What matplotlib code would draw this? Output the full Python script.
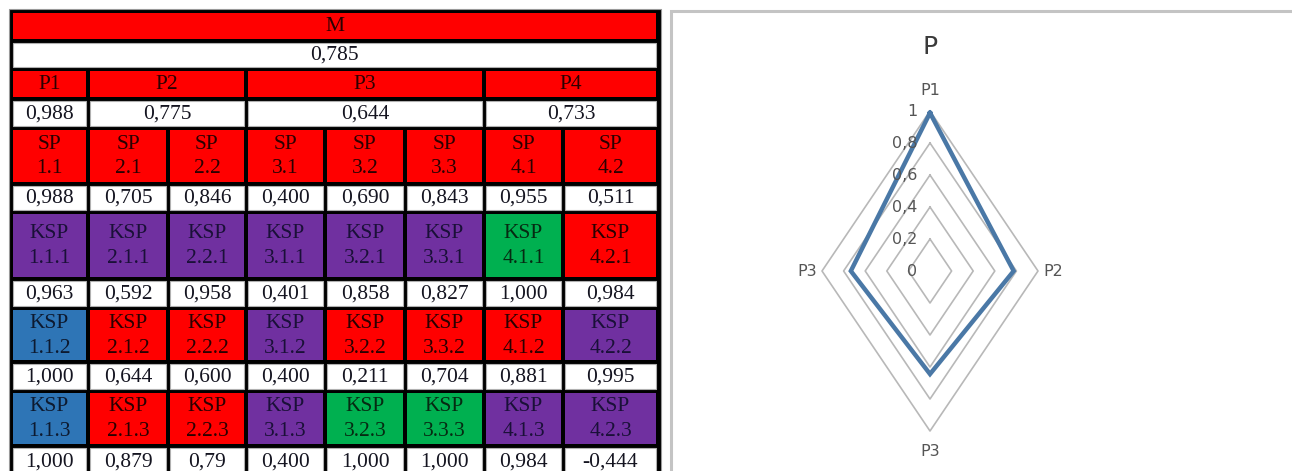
import matplotlib.pyplot as plt
import numpy as np
from matplotlib.patches import Rectangle

# ---- data -------------------------------------------------------------
m_label = 'M'
m_value = '0,785'

p_labels = ['P1', 'P2', 'P3', 'P4']
p_values = ['0,988', '0,775', '0,644', '0,733']
p_spans = [1, 2, 3, 2]

sp_labels = ['SP\n1.1', 'SP\n2.1', 'SP\n2.2', 'SP\n3.1',
             'SP\n3.2', 'SP\n3.3', 'SP\n4.1', 'SP\n4.2']
sp_values = ['0,988', '0,705', '0,846', '0,400',
             '0,690', '0,843', '0,955', '0,511']

ksp1_labels = ['1.1.1', '2.1.1', '2.2.1', '3.1.1', '3.2.1', '3.3.1', '4.1.1', '4.2.1']
ksp1_colors = ['purple', 'purple', 'purple', 'purple', 'purple', 'purple', 'green', 'red']
ksp1_values = ['0,963', '0,592', '0,958', '0,401', '0,858', '0,827', '1,000', '0,984']

ksp2_labels = ['1.1.2', '2.1.2', '2.2.2', '3.1.2', '3.2.2', '3.3.2', '4.1.2', '4.2.2']
ksp2_colors = ['blue', 'red', 'red', 'purple', 'red', 'red', 'red', 'purple']
ksp2_values = ['1,000', '0,644', '0,600', '0,400', '0,211', '0,704', '0,881', '0,995']

ksp3_labels = ['1.1.3', '2.1.3', '2.2.3', '3.1.3', '3.2.3', '3.3.3', '4.1.3', '4.2.3']
ksp3_colors = ['blue', 'red', 'red', 'purple', 'green', 'green', 'purple', 'purple']
ksp3_values = ['1,000', '0,879', '0,79', '0,400', '1,000', '1,000', '0,984', '-0,444']

radar_title = 'P'
radar_labels = ['P1', 'P2', 'P3', 'P3']
radar_values = [0.988, 0.775, 0.644, 0.733]
radar_ticks = [0, 0.2, 0.4, 0.6, 0.8, 1.0]
radar_tick_labels = ['0', '0,2', '0,4', '0,6', '0,8', '1']

# ---- styles -------------------------------------------------------------
fills = {'red': '#ff0000', 'purple': '#7030a0', 'blue': '#2e75b6',
         'green': '#00b050', 'white': '#ffffff'}
inks = {'red': '#2a0000', 'purple': '#1a1038', 'blue': '#0d1a30',
        'green': '#062a12', 'white': '#141420'}

W, H = 1292, 471
col_x = [11, 88, 168, 246, 325, 405, 484, 563, 658]
row_y = [11, 40.5, 68.5, 99, 127.5, 183.5, 211.5, 279, 307.5, 362, 391,
         445.5, 476]
gap = 2.0
serif = 'Liberation Serif'
fsize = 15.5


def cell(ax, c0, c1, r, text, kind):
    x0 = col_x[c0] + gap
    x1 = col_x[c1] - gap
    y0 = row_y[r] + gap
    y1 = row_y[r + 1] - gap
    ec = '#b0b0b0' if kind == 'white' else 'none'
    ax.add_patch(Rectangle((x0, y0), x1 - x0, y1 - y0, facecolor=fills[kind],
                           edgecolor=ec, linewidth=0.8))
    ax.text((x0 + x1) / 2, (y0 + y1) / 2 + 1, text, ha='center', va='center',
            family=serif, fontsize=fsize, color=inks[kind], linespacing=1.4)


def main():
    fig = plt.figure(figsize=(W / 100, H / 100), dpi=100)
    ax = fig.add_axes([0, 0, 1, 1])
    ax.set_xlim(0, W)
    ax.set_ylim(H, 0)
    ax.axis('off')

    # table background (black grid)
    ax.add_patch(Rectangle((8.5, 8.5), 652, 470, facecolor='black',
                           edgecolor='#9a9a9a', linewidth=0.8))
    n = len(col_x) - 1
    cell(ax, 0, n, 0, m_label, 'red')
    cell(ax, 0, n, 1, m_value, 'white')
    c = 0
    for lab, val, span in zip(p_labels, p_values, p_spans):
        cell(ax, c, c + span, 2, lab, 'red')
        cell(ax, c, c + span, 3, val, 'white')
        c += span
    for i in range(n):
        cell(ax, i, i + 1, 4, sp_labels[i], 'red')
        cell(ax, i, i + 1, 5, sp_values[i], 'white')
    r = 6
    for labs, cols, vals in [(ksp1_labels, ksp1_colors, ksp1_values),
                             (ksp2_labels, ksp2_colors, ksp2_values),
                             (ksp3_labels, ksp3_colors, ksp3_values)]:
        for i in range(n):
            cell(ax, i, i + 1, r, 'KSP\n' + labs[i], cols[i])
            cell(ax, i, i + 1, r + 1, vals[i], 'white')
        r += 2

    # chart frame
    ax.add_patch(Rectangle((670.5, 10.5), 700, 500, facecolor='white',
                           edgecolor='#c4c4c4', linewidth=2.2))

    # radar chart (Excel-style, stretched diamond)
    cx, cy, rx, ry = 930, 271, 108, 160
    rax = fig.add_axes([(cx - rx) / W, (H - cy - ry) / H, 2 * rx / W, 2 * ry / H])
    rax.set_xlim(-1, 1)
    rax.set_ylim(-1, 1)
    rax.axis('off')
    k = len(radar_values)
    ang = np.arange(k + 1) * 2 * np.pi / k
    for t in radar_ticks[1:]:
        rax.plot(t * np.sin(ang), t * np.cos(ang), color='#b8b8b8',
                 linewidth=1.2, clip_on=False)
    vals = np.array(radar_values + radar_values[:1])
    rax.plot(vals * np.sin(ang), vals * np.cos(ang), color='#4a78a6',
             linewidth=3.2, solid_joinstyle='miter', clip_on=False)
    narrow = ['Liberation Sans Narrow', 'DejaVu Sans']
    for t, tl in zip(radar_ticks, radar_tick_labels):
        rax.text(-0.115, t, tl, ha='right', va='center', family=narrow,
                 fontsize=11.5, color='#555555')
    offs = [(0, 1.13), (1.05, 0), (0, -1.13), (-1.05, 0)]
    aligns = [('center', 'center'), ('left', 'center'),
              ('center', 'center'), ('right', 'center')]
    for lab, (ox, oy), (ha, va) in zip(radar_labels, offs, aligns):
        rax.text(ox, oy, lab, ha=ha, va=va, family=narrow, fontsize=11.5,
                 color='#555555')
    rax.text(0, 1.4, radar_title, ha='center', va='center', family=narrow,
             fontsize=18, color='#3a3a3a')

    fig.savefig('out.png', dpi=100)


if __name__ == '__main__':
    main()
